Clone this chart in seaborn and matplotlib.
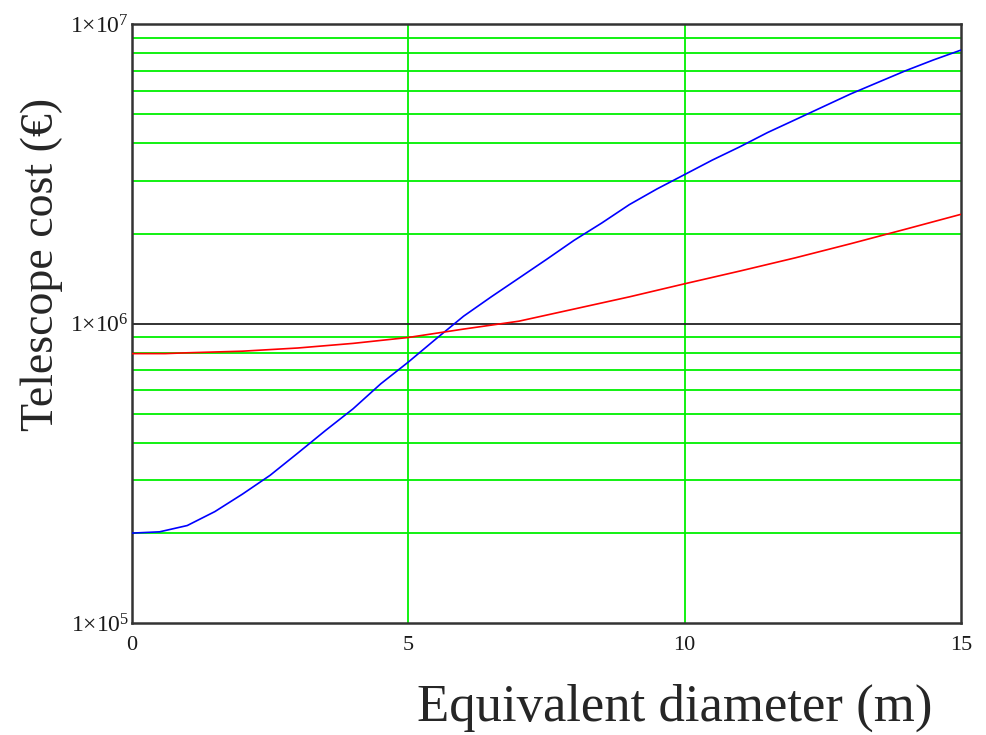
import matplotlib
matplotlib.use("Agg")
import matplotlib.pyplot as plt
import seaborn as sns
import pandas as pd
import numpy as np
from matplotlib.ticker import FixedLocator, NullLocator

# Data
diam_blue = [0, 0.5, 1, 1.5, 2, 2.5, 3, 3.5, 4, 4.5, 5, 5.5, 6, 6.5, 7, 7.5,
             8, 8.5, 9, 9.5, 10, 10.5, 11, 11.5, 12, 12.5, 13, 13.5, 14, 14.5, 15]
cost_blue = [2.0e5, 2.02e5, 2.12e5, 2.36e5, 2.7e5, 3.12e5, 3.7e5, 4.4e5, 5.2e5,
             6.3e5, 7.45e5, 8.9e5, 1.06e6, 1.23e6, 1.42e6, 1.64e6, 1.9e6, 2.17e6,
             2.5e6, 2.82e6, 3.15e6, 3.52e6, 3.9e6, 4.35e6, 4.8e6, 5.3e6, 5.85e6,
             6.4e6, 7.0e6, 7.6e6, 8.2e6]
diam_red = [0, 0.6, 1, 2, 3, 4, 5, 6, 7, 8, 9, 10, 11, 12, 13, 14, 15]
cost_red = [7.95e5, 7.95e5, 8.0e5, 8.1e5, 8.3e5, 8.6e5, 9.0e5, 9.6e5, 1.02e6,
            1.12e6, 1.23e6, 1.36e6, 1.5e6, 1.66e6, 1.85e6, 2.07e6, 2.32e6]

x_ticks = [0, 5, 10, 15]
y_major = [1e5, 1e6, 1e7]
y_labels = [r"$1{\times}10^{5}$", r"$1{\times}10^{6}$", r"$1{\times}10^{7}$"]

df = pd.concat([
    pd.DataFrame({"d": diam_blue, "c": cost_blue, "s": "blue"}),
    pd.DataFrame({"d": diam_red, "c": cost_red, "s": "red"}),
])

sns.set_style("white")
plt.rcParams["font.family"] = ["Liberation Serif", "DejaVu Serif"]
plt.rcParams["mathtext.fontset"] = "custom"
plt.rcParams["mathtext.rm"] = "Liberation Serif"
plt.rcParams["mathtext.it"] = "Liberation Serif"

fig = plt.figure(figsize=(9.87, 7.35), dpi=100)
ax = fig.add_axes([0.1337, 0.152, 0.84, 0.815])

ax.set_yscale("log")
ax.set_xlim(0, 15)
ax.set_ylim(1e5, 1e7)

# grid lines
minor_vals = [m * 10 ** e for e in (5, 6) for m in range(2, 10)]
for v in minor_vals:
    ax.axhline(v, color="#00f000", lw=1.3, zorder=1)
for xv in [5, 10]:
    ax.axvline(xv, color="#00f000", lw=1.3, zorder=1)
ax.axhline(1e6, color="#222222", lw=1.3, zorder=1)

sns.lineplot(data=df, x="d", y="c", hue="s", palette={"blue": "#0000ff", "red": "#ff0000"},
             ax=ax, legend=False, lw=1.2, zorder=3, estimator=None, sort=False)

ax.xaxis.set_major_locator(FixedLocator(x_ticks))
ax.set_xticklabels([str(t) for t in x_ticks])
ax.yaxis.set_major_locator(FixedLocator(y_major))
ax.set_yticklabels(y_labels)
ax.yaxis.set_minor_locator(NullLocator())
ax.tick_params(axis="both", length=0, colors="#1a1a1a")
ax.tick_params(axis="x", pad=9, labelsize=16)
ax.tick_params(axis="y", pad=2, labelsize=17)

for sp in ax.spines.values():
    sp.set_color("#333333")
    sp.set_linewidth(1.8)
    sp.set_visible(True)

ax.set_xlabel("")
ax.set_ylabel("")
fig.text(0.945, 0.037, "Equivalent diameter (m)", fontsize=38, ha="right", va="center")
fig.text(0.042, 0.64, "Telescope cost (€)", fontsize=33, ha="center", va="center", rotation=90)

fig.savefig("out.png", dpi=100)
